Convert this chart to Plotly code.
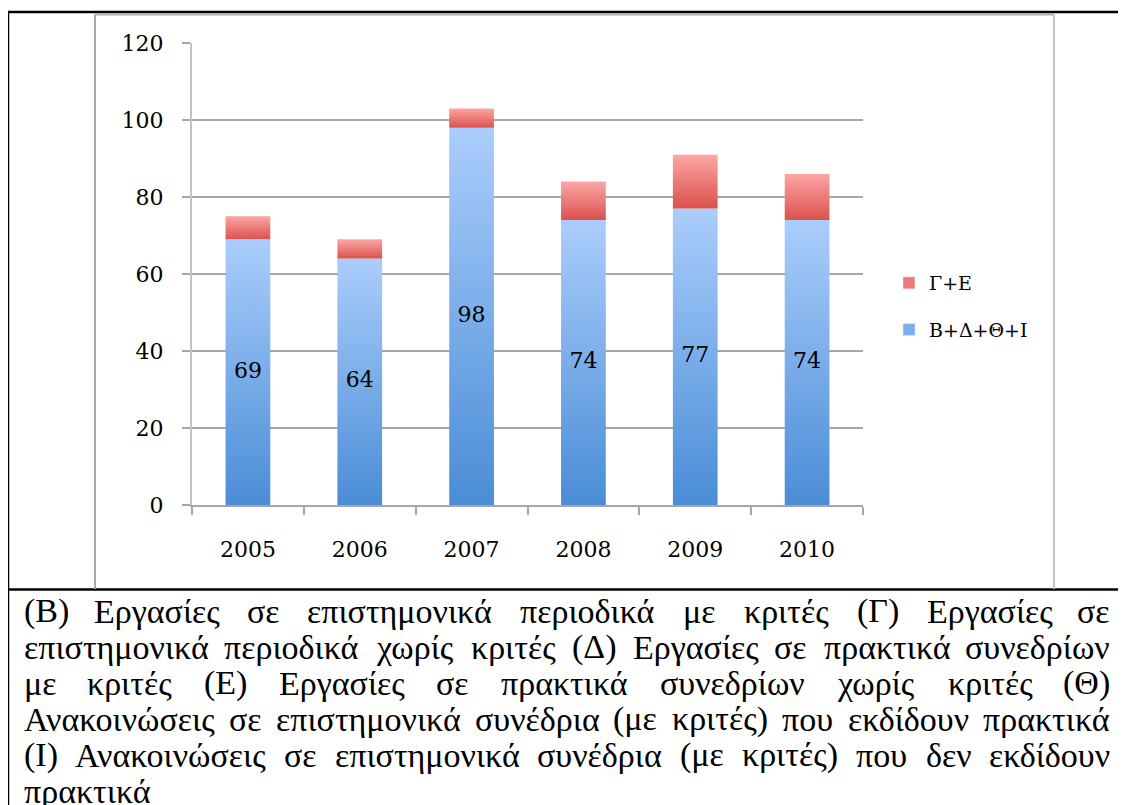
import plotly.graph_objects as go

# données
years = ["2005", "2006", "2007", "2008", "2009", "2010"]
bdti = [69, 64, 98, 74, 77, 74]      # Β+Δ+Θ+Ι
ge = [6, 5, 5, 10, 14, 12]           # Γ+Ε
y_ticks = [0, 20, 40, 60, 80, 100, 120]

caption_lines = [
    "(Β) Εργασίες σε επιστημονικά περιοδικά με κριτές (Γ) Εργασίες σε",
    "επιστημονικά περιοδικά χωρίς κριτές (Δ) Εργασίες σε πρακτικά συνεδρίων",
    "με κριτές (Ε) Εργασίες σε πρακτικά συνεδρίων χωρίς κριτές (Θ)",
    "Ανακοινώσεις σε επιστημονικά συνέδρια (με κριτές) που εκδίδουν πρακτικά",
    "(Ι) Ανακοινώσεις σε επιστημονικά συνέδρια (με κριτές) που δεν εκδίδουν",
    "πρακτικά",
]

# la page html ajoute 8px de marge au body : on travaille en coordonnées écran
OFF = 8
W_PX, H_PX = 1126 - OFF, 805 - OFF
PX0, PX1, PY0, PY1 = 192, 863, 43, 505   # zone de tracé (écran)


def fx(px):
    return (px - PX0) / (PX1 - PX0)


def fy(py):
    return (PY1 - py) / (PY1 - PY0)


grid = "#a6a6a6"
chart_font = "DejaVu Serif"
cap_font = "Liberation Serif"
cap_size = 34
bar_half = 0.2

fig = go.Figure()

# barres empilées avec dégradé
for i, (b, g) in enumerate(zip(bdti, ge)):
    fig.add_trace(go.Scatter(
        x=[i - bar_half, i + bar_half, i + bar_half, i - bar_half, i - bar_half],
        y=[0, 0, b, b, 0],
        mode="lines", line=dict(width=0), fill="toself",
        fillgradient=dict(type="vertical", colorscale=[[0, "#4a8dd6"], [1, "#aacdfc"]]),
        showlegend=False, hoverinfo="skip",
    ))
    fig.add_trace(go.Scatter(
        x=[i - bar_half, i + bar_half, i + bar_half, i - bar_half, i - bar_half],
        y=[b, b, b + g, b + g, b],
        mode="lines", line=dict(width=0), fill="toself",
        fillgradient=dict(type="vertical", colorscale=[[0, "#db514c"], [1, "#fca6a5"]]),
        showlegend=False, hoverinfo="skip",
    ))

# étiquettes
fig.add_trace(go.Scatter(
    x=list(range(len(years))), y=[b / 2 for b in bdti],
    mode="text", text=[str(b) for b in bdti],
    textfont=dict(family=chart_font, size=22, color="black"),
    showlegend=False, hoverinfo="skip",
))

# légende
fig.add_trace(go.Bar(x=[None], y=[None], name="Γ+Ε", marker_color="#ee7b78", legendgroup="a"))
fig.add_trace(go.Bar(x=[None], y=[None], name="Β+Δ+Θ+Ι", marker_color="#7aaeec", legendgroup="b"))

shapes = []
# cadre noir du tableau
for x0, y0, x1, y1 in [(8, 12, 8, 820), (8, 12, 1140, 12), (8, 589.5, 1140, 589.5)]:
    shapes.append(dict(type="line", xref="paper", yref="paper",
                       x0=fx(x0), y0=fy(y0), x1=fx(x1), y1=fy(y1),
                       line=dict(color="black", width=2.5)))
# bordure grise du graphique
for x0, y0, x1, y1, c in [(95, 14.5, 95, 589, "#a8a8a8"), (95, 14.5, 1054, 14.5, "#b0b0b0"),
                          (1054, 14.5, 1054, 589, "#c4c4c4")]:
    shapes.append(dict(type="line", xref="paper", yref="paper",
                       x0=fx(x0), y0=fy(y0), x1=fx(x1), y1=fy(y1),
                       line=dict(color=c, width=2)))

# texte sous le graphique (justifié)
CW = {
    "(": .333, ")": .333, "+": .564, " ": .25,
    "Α": .722, "Β": .667, "Γ": .578, "Δ": .643, "Ε": .611, "Θ": .722, "Ι": .333,
    "α": .54, "β": .5, "γ": .46, "δ": .5, "ε": .43, "ζ": .43, "η": .5, "θ": .5,
    "ι": .28, "κ": .51, "λ": .5, "μ": .55, "ν": .47, "ξ": .43, "ο": .5, "π": .55,
    "ρ": .5, "σ": .53, "ς": .43, "τ": .44, "υ": .49, "φ": .62, "χ": .49, "ψ": .65,
    "ω": .68, "ά": .54, "έ": .43, "ί": .28, "ό": .5, "ώ": .68,
}
CAL = 0.975


def word_w(w):
    return sum(CW.get(c, .5) for c in w) * cap_size * CAL


CAP_L, CAP_R = 22, 1112
annotations = []
for k, line in enumerate(caption_lines):
    yline = 611 + 36 * k
    cap = dict(family=cap_font, size=cap_size, color="black")
    if k == len(caption_lines) - 1:
        annotations.append(dict(x=fx(CAP_L), y=fy(yline), xref="paper", yref="paper",
                                text=line, showarrow=False, xanchor="left", yanchor="middle",
                                font=cap))
        continue
    words = line.split(" ")
    widths = [word_w(w) for w in words]
    gap = (CAP_R - CAP_L - sum(widths)) / (len(words) - 1)
    x = CAP_L
    for j, (w, wd) in enumerate(zip(words, widths)):
        if j == 0:
            xa, xpos = "left", x
        elif j == len(words) - 1:
            xa, xpos = "right", CAP_R
        else:
            xa, xpos = "center", x + wd / 2
        annotations.append(dict(x=fx(xpos), y=fy(yline), xref="paper", yref="paper",
                                text=w, showarrow=False, xanchor=xa, yanchor="middle",
                                font=cap))
        x += wd + gap

fig.update_layout(
    width=W_PX, height=H_PX, autosize=False,
    margin=dict(l=PX0 - OFF, r=W_PX - (PX1 - OFF), t=PY0 - OFF, b=H_PX - (PY1 - OFF), pad=0),
    plot_bgcolor="white", paper_bgcolor="white",
    font=dict(family=chart_font, color="black"),
    shapes=shapes, annotations=annotations,
    legend=dict(x=fx(889), y=fy(264), xanchor="left", yanchor="top",
                font=dict(family=chart_font, size=19, color="black"),
                tracegroupgap=19, bgcolor="rgba(0,0,0,0)", traceorder="grouped"),
)

fig.update_xaxes(
    range=[-0.5, len(years) - 0.5], tickvals=list(range(len(years))), ticktext=years,
    ticks="", showgrid=False, zeroline=False,
    showline=True, linecolor=grid, linewidth=2,
    minor=dict(ticks="outside", tick0=-0.5, dtick=1, ticklen=8, tickwidth=2, tickcolor=grid),
    tickfont=dict(family=chart_font, size=22, color="black"),
    ticklabelstandoff=24,
)
fig.update_yaxes(
    range=[0, 120], tickvals=y_ticks,
    ticks="outside", ticklen=8, tickwidth=2, tickcolor=grid,
    showgrid=True, gridcolor=grid, gridwidth=2, zeroline=False,
    showline=True, linecolor="#c4c4c4", linewidth=2,
    tickfont=dict(family=chart_font, size=22, color="black"),
    ticklabelstandoff=14,
)

fig.write_html("out.html")
